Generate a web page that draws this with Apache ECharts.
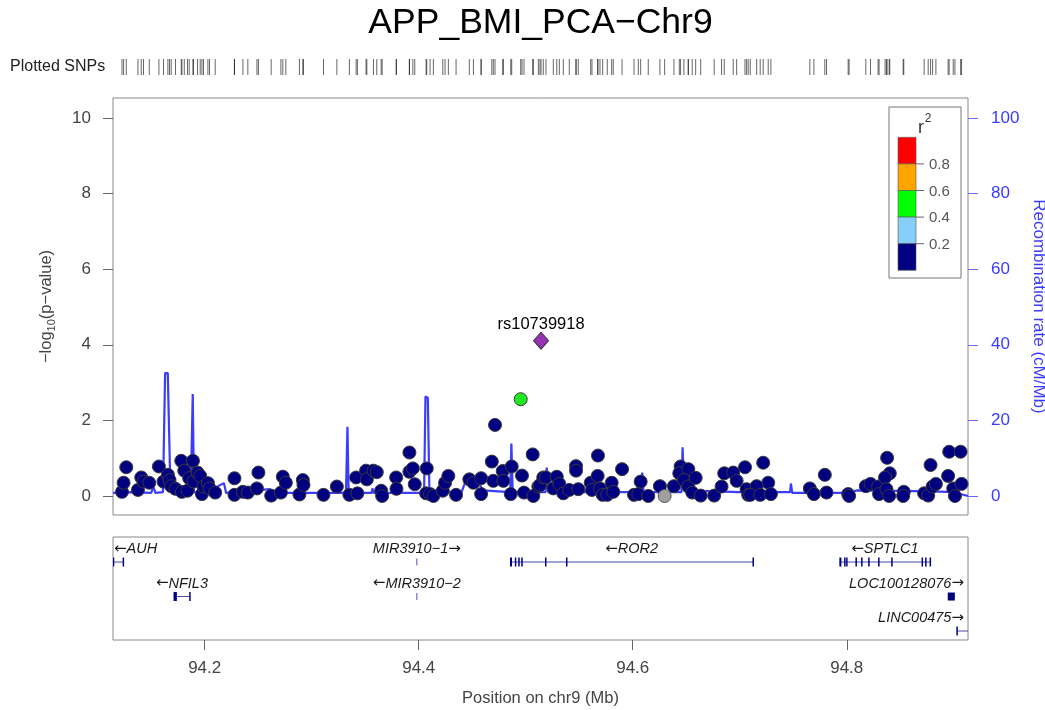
<!DOCTYPE html>
<html><head><meta charset="utf-8">
<script src="https://cdn.jsdelivr.net/npm/echarts@6/dist/echarts.min.js"></script>
<style>html,body{margin:0;padding:0;background:#fff}#c{width:1045px;height:710px}</style>
</head><body><div id="c"></div>
<script>
const chartTitle = 'APP_BMI_PCA\u2212Chr9';
const xRange = [94.1143, 94.9133];
const xTicks = [94.2, 94.4, 94.6, 94.8];
const yTicks = [0, 2, 4, 6, 8, 10];
const recTicks = [0, 20, 40, 60, 80, 100];

// SNPs with r2 < 0.2 (navy)
const snpPos = [
94.1227,94.1242,94.1267,94.1376,94.1407,94.1428,94.1482,94.1572,94.1615,94.1656,
94.1671,94.1687,94.1727,94.1781,94.1809,94.1787,94.1839,94.1855,94.1890,94.1895,
94.1933,94.1958,94.1974,94.1989,94.2030,94.2045,94.2098,94.2278,94.2278,94.2357,
94.2403,94.2488,94.2502,94.2621,94.2712,94.2730,94.2758,94.2885,94.2917,94.2923,
94.3110,94.3235,94.3352,94.3415,94.3427,94.3508,94.3515,94.3577,94.3608,94.3649,
94.3658,94.3789,94.3792,94.3913,94.3913,94.3945,94.3963,94.4075,94.4069,94.4106,
94.4137,94.4225,94.4246,94.4277,94.4349,94.4473,94.4511,94.4583,94.4583,94.4683,
94.4713,94.4697,94.4785,94.4791,94.4869,94.4860,94.4965,94.4984,94.5065,94.5071,
94.5118,94.5133,94.5164,94.5189,94.5258,94.5290,94.5314,94.5351,94.5407,94.5470,
94.5470,94.5491,94.5607,94.5619,94.5675,94.5672,94.5694,94.5719,94.5762,94.5803,
94.5818,94.5900,94.6012,94.6052,94.6074,94.6145,94.6254,94.6385,94.6447,94.6435,
94.6519,94.6478,94.6519,94.6556,94.6588,94.6635,94.6761,94.6830,94.6855,94.6939,
94.6971,94.7049,94.7064,94.7079,94.7219,94.7266,94.7158,94.7098,94.7191,94.7291,
94.7655,94.7693,94.7795,94.7811,94.8013,94.8022,94.8178,94.8222,94.8293,94.8302,
94.8377,94.8402,94.8358,94.8371,94.8396,94.8533,94.8527,94.8723,94.8761,94.8783,
94.8802,94.8833,94.8947,94.8957,94.8995,94.9011,94.9064,94.9073
];
const snpLogP = [
0.11,0.35,0.76,0.16,0.49,0.38,0.35,0.78,0.38,0.56,
0.42,0.26,0.19,0.93,0.67,0.11,0.14,0.47,0.93,0.38,
0.62,0.53,0.05,0.25,0.34,0.20,0.09,0.47,0.03,0.11,
0.09,0.20,0.62,0.01,0.09,0.51,0.35,0.04,0.42,0.29,
0.03,0.25,0.03,0.49,0.07,0.67,0.44,0.67,0.63,0.14,
0.00,0.49,0.19,1.15,0.64,0.73,0.31,0.73,0.07,0.05,
0.00,0.14,0.35,0.53,0.03,0.44,0.35,0.47,0.05,0.91,
1.88,0.40,0.66,0.40,0.78,0.05,0.54,0.09,1.10,0.00,
0.25,0.29,0.49,0.49,0.20,0.51,0.32,0.07,0.16,0.79,
0.67,0.18,0.35,0.16,1.07,0.53,0.20,0.03,0.03,0.35,
0.11,0.71,0.03,0.05,0.38,0.00,0.26,0.26,0.78,0.60,
0.71,0.42,0.25,0.09,0.48,0.01,0.01,0.25,0.60,0.62,
0.40,0.76,0.18,0.03,0.88,0.35,0.26,0.03,0.03,0.05,
0.20,0.05,0.56,0.09,0.05,0.00,0.26,0.32,0.25,0.05,
1.01,0.60,0.49,0.18,0.00,0.11,0.00,0.07,0.01,0.82,
0.25,0.32,0.53,1.17,0.20,0.00,1.17,0.32
];
const greenSnp = [94.4953, 2.56];   // r2 0.4-0.6
const greySnp = [94.6298, 0.00];    // r2 missing
const leadSnp = [94.5143, 4.11];
const leadName = 'rs10739918';

// recombination rate (cM/Mb)
const recPos = [94.1143,94.1300,94.1500,94.1520,94.1540,94.1610,94.1630,94.1655,94.1680,94.1750,
94.1870,94.1888,94.1900,94.2000,94.2180,94.2190,94.2200,94.2610,94.2620,94.2640,
94.3320,94.3334,94.3345,94.3560,94.3567,94.3580,94.4050,94.4063,94.4085,94.4100,
94.4400,94.4440,94.4550,94.4600,94.4855,94.4866,94.4878,94.5185,94.5196,94.5210,
94.6075,94.6089,94.6100,94.6455,94.6466,94.6480,94.7000,94.7470,94.7478,94.7490,
94.8000,94.8100,94.8800,94.9000,94.9133];
const recRate = [0.8,1.0,0.8,2.5,0.8,1.0,32.5,32.5,1.0,1.2,
1.0,27.0,1.0,0.8,3.4,3.4,0.8,1.8,1.8,0.8,
0.8,18.3,0.8,0.8,2.0,0.8,0.8,26.3,26.0,1.0,
1.0,4.0,4.0,1.5,1.0,13.9,1.0,1.0,7.5,1.0,
1.0,6.2,1.0,1.0,12.9,1.5,1.0,1.0,3.3,0.8,
0.8,1.5,1.2,1.0,0.0];

// genes
const geneNames = ['AUH','NFIL3','MIR3910\u22121','MIR3910\u22122','ROR2','SPTLC1','LOC100128076','LINC00475'];
const geneStart = [94.1100,94.1709,94.3982,94.3982,94.4853,94.7931,94.8944,94.9031];
const geneEnd   = [94.1242,94.1865,94.3982,94.3982,94.7126,94.8781,94.9010,94.9300];
const geneRow   = [1,2,1,2,1,1,2,3];
const geneStrand = ['-','-','+','-','-','-','+','+'];
const geneExons = [
  [[94.1148,94.1150],[94.1240,94.1242]],
  [[94.1709,94.1740],[94.1862,94.1865]],
  [[94.3982,94.3982]],
  [[94.3982,94.3982]],
  [[94.4853,94.4872],[94.4905,94.4905],[94.4937,94.4937],[94.4965,94.4965],[94.5187,94.5190],[94.5383,94.5383],[94.7126,94.7126]],
  [[94.7931,94.7950],[94.7982,94.7982],[94.8001,94.8001],[94.8088,94.8095],[94.8141,94.8141],[94.8207,94.8207],[94.8300,94.8300],[94.8422,94.8430],[94.8706,94.8706],[94.8739,94.8739],[94.8781,94.8781]],
  [[94.8944,94.9010]],
  [[94.9031,94.9031]]
];

const ldLabels = ['0.8','0.6','0.4','0.2'];
const ldColors = ['#FF0000','#FFA500','#00FF00','#87CEFA','#000080'];

const FONT = '"Liberation Sans", Arial, Helvetica, sans-serif';
const measureCtx = document.createElement('canvas').getContext('2d');

const allPos = snpPos.concat([greenSnp[0], greySnp[0], leadSnp[0]]);

const GENE_FONT = 'italic 14.5px ' + FONT;
const ARROW_FONT = '15px "DejaVu Sans", sans-serif';

function geneRender(params, api) {
  const i = api.value(2);
  const row = geneRow[i];
  const p0 = api.coord([geneStart[i], row]);
  const p1 = api.coord([geneEnd[i], row]);
  const y = p0[1];
  const cs = params.coordSys;
  const children = [];
  const single = geneStart[i] === geneEnd[i];
  if (!single) {
    children.push({type:'line', shape:{x1:p0[0], y1:y, x2:p1[0], y2:y}, style:{stroke:'#4a4aa8', lineWidth:1}});
  }
  geneExons[i].forEach(function (ex) {
    const a = api.coord([ex[0], row])[0], b = api.coord([ex[1], row])[0];
    const w = Math.max(b - a, 1.5);
    const h = single ? 7 : (i === 6 ? 8 : 9);
    children.push({type:'rect', shape:{x: (b - a < 1.5 ? a - 0.75 : a), y: y - h / 2, width: w, height: h},
      style:{fill: single ? '#8a8ad0' : '#000080'}});
  });
  const minus = geneStrand[i] === '-';
  const txt = minus ? '{ar|\u2190}{t|' + geneNames[i] + '}' : '{t|' + geneNames[i] + '}{ar|\u2192}';
  measureCtx.font = GENE_FONT;
  let tw = measureCtx.measureText(geneNames[i]).width;
  measureCtx.font = ARROW_FONT;
  tw += measureCtx.measureText('\u2190').width;
  let cx = (Math.max(p0[0], cs.x) + Math.min(p1[0], cs.x + cs.width)) / 2;
  const lo = cs.x + 1, hi = cs.x + cs.width - 4;
  if (cx - tw / 2 < lo) cx = lo + tw / 2;
  if (cx + tw / 2 > hi) cx = hi - tw / 2;
  children.push({type:'text', x:cx, y:y - 13, style:{text:txt, align:'center', verticalAlign:'middle',
    rich:{t:{font:GENE_FONT, fill:'#1a1a1a'}, ar:{font:ARROW_FONT, fill:'#1a1a1a'}}}});
  return {type:'group', children:children};
}

function rugRender(params, api) {
  const p = api.coord([api.value(0), 0]);
  const cs = params.coordSys;
  return {type:'line', shape:{x1:p[0], y1:cs.y, x2:p[0], y2:cs.y + cs.height}, style:{stroke:'rgba(0,0,0,0.6)', lineWidth:1}};
}

// legend graphics
const legendG = [];
legendG.push({type:'rect', shape:{x:889, y:107, width:72, height:171}, style:{fill:'#fff', stroke:'#777', lineWidth:1}});
legendG.push({type:'text', x:921, y:128, style:{text:'r', font:'18px ' + FONT, fill:'#333', align:'center', verticalAlign:'middle'}});
legendG.push({type:'text', x:928, y:119, style:{text:'2', font:'12px ' + FONT, fill:'#333', align:'center', verticalAlign:'middle'}});
const boxTop = 137.3, boxH = 26.6;
ldColors.forEach(function (c, k) {
  legendG.push({type:'rect', shape:{x:898, y:boxTop + k * boxH, width:18, height:boxH}, style:{fill:c, stroke:'#555', lineWidth:0.6}});
});
ldLabels.forEach(function (t, k) {
  const yy = boxTop + (k + 1) * boxH;
  legendG.push({type:'line', shape:{x1:916, y1:yy, x2:924, y2:yy}, style:{stroke:'#666', lineWidth:1}});
  legendG.push({type:'text', x:929, y:yy + 1, style:{text:t, font:'15px ' + FONT, fill:'#555', align:'left', verticalAlign:'middle'}});
});

const chart = echarts.init(document.getElementById('c'), null, {renderer:'canvas'});
chart.setOption({
  animation: false,
  backgroundColor: '#fff',
  grid: [
    {left:113, top:98, width:855, height:417, show:true, borderColor:'#888', borderWidth:1, backgroundColor:'transparent', outerBoundsMode:'none', containLabel:false},
    {left:113, top:537, width:855, height:103, show:true, borderColor:'#888', borderWidth:1, backgroundColor:'transparent', outerBoundsMode:'none', containLabel:false},
    {left:113, top:59, width:855, height:16, show:false, outerBoundsMode:'none', containLabel:false}
  ],
  xAxis: [
    {type:'value', gridIndex:0, min:xRange[0], max:xRange[1], show:false},
    {type:'value', gridIndex:1, min:xRange[0], max:xRange[1],
      axisLine:{show:false}, splitLine:{show:false},
      axisTick:{show:true, customValues:xTicks, length:10, lineStyle:{color:'#666'}},
      axisLabel:{customValues:xTicks, fontSize:17, color:'#444', margin:20, fontFamily:FONT,
        formatter:function (v) { return v.toFixed(1); }},
      name:'Position on chr9 (Mb)', nameLocation:'middle', nameGap:50,
      nameTextStyle:{fontSize:16.5, color:'#444', fontFamily:FONT}},
    {type:'value', gridIndex:2, min:xRange[0], max:xRange[1], show:false}
  ],
  yAxis: [
    {type:'value', gridIndex:0, min:-0.503, max:10.529, position:'left',
      axisLine:{show:false, onZero:false}, splitLine:{show:false},
      axisTick:{show:true, customValues:yTicks, length:10, lineStyle:{color:'#666'}},
      axisLabel:{customValues:yTicks, fontSize:17, color:'#444', margin:22, fontFamily:FONT},
      name:'{a|\u2212log}{s|10}{a|(p\u2212value)}', nameLocation:'middle', nameRotate:90, nameGap:56,
      nameTextStyle:{fontFamily:FONT, rich:{
        a:{fontSize:16.5, color:'#444', fontFamily:FONT, lineHeight:22},
        s:{fontSize:11, color:'#444', fontFamily:FONT, lineHeight:14, verticalAlign:'bottom'}}}},
    {type:'value', gridIndex:0, min:-5.03, max:105.29, position:'right',
      axisLine:{show:false, onZero:false}, splitLine:{show:false},
      axisTick:{show:true, customValues:recTicks, length:10, lineStyle:{color:'#6666ff'}},
      axisLabel:{customValues:recTicks, fontSize:17, color:'#3a3aff', margin:23, fontFamily:FONT},
      name:'Recombination rate (cM/Mb)', nameLocation:'middle', nameRotate:-90, nameGap:62,
      nameTextStyle:{fontSize:17, color:'#3a3aff', fontFamily:FONT}},
    {type:'value', gridIndex:1, min:0.275, max:3.26, inverse:true, show:false},
    {type:'value', gridIndex:2, min:0, max:1, show:false}
  ],
  graphic: [
    {type:'text', x:540.5, y:23, style:{text:chartTitle, font:'35.5px ' + FONT, fill:'#000', align:'center', verticalAlign:'middle'}},
    {type:'text', x:10, y:67, style:{text:'Plotted SNPs', font:'16px ' + FONT, fill:'#222', align:'left', verticalAlign:'middle'}},
    {type:'group', children:legendG, z:100}
  ],
  series: [
    {type:'line', xAxisIndex:0, yAxisIndex:1, data:recPos.map(function (x, k) { return [x, recRate[k]]; }),
      showSymbol:false, symbol:'none', lineStyle:{color:'#3c3cff', width:2.2}, z:1, clip:true},
    {type:'scatter', xAxisIndex:0, yAxisIndex:0, data:snpPos.map(function (x, k) { return [x, snpLogP[k]]; }),
      symbol:'circle', symbolSize:13, itemStyle:{color:'#000080', borderColor:'#3a3a3a', borderWidth:1, opacity:1}, z:3, clip:false},
    {type:'scatter', xAxisIndex:0, yAxisIndex:0, data:[greySnp],
      symbol:'circle', symbolSize:13, itemStyle:{color:'#a0a0a0', borderColor:'#555', borderWidth:1, opacity:1}, z:3, clip:false},
    {type:'scatter', xAxisIndex:0, yAxisIndex:0, data:[greenSnp],
      symbol:'circle', symbolSize:13, itemStyle:{color:'#1ee81e', borderColor:'#3a3a3a', borderWidth:1, opacity:1}, z:4, clip:false},
    {type:'scatter', xAxisIndex:0, yAxisIndex:0, data:[leadSnp],
      symbol:'diamond', symbolSize:[15, 17], itemStyle:{color:'#9632B8', borderColor:'#3a3a3a', borderWidth:1, opacity:1}, z:5, clip:false,
      label:{show:true, formatter:leadName, position:'top', distance:-1, fontSize:16.5, color:'#000', fontFamily:FONT}},
    {type:'custom', xAxisIndex:1, yAxisIndex:2, clip:true, renderItem:geneRender,
      data:geneNames.map(function (n, k) { return [geneStart[k], geneRow[k], k]; })},
    {type:'custom', xAxisIndex:2, yAxisIndex:3, renderItem:rugRender,
      data:allPos.map(function (x) { return [x, 0]; })}
  ]
});
</script>
</body></html>
